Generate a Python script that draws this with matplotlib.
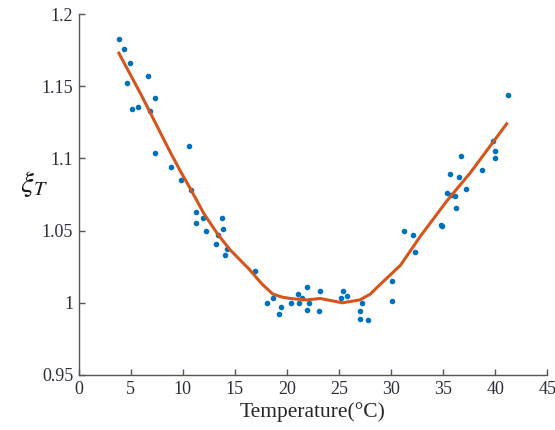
import matplotlib.pyplot as plt

plt.rcParams['font.family'] = ['Liberation Serif', 'DejaVu Serif']
plt.rcParams['mathtext.fontset'] = 'stix'

# measured samples
temp = [3.85, 4.33, 4.9, 4.6, 6.6, 7.3, 5.1, 5.7, 6.8, 7.3, 10.6, 8.9,
        9.8, 10.8, 11.25, 11.9, 11.25, 13.75, 12.2, 13.9, 13.4, 13.2, 14.2, 14.0,
        16.9, 18.1, 18.65, 19.4, 19.2, 20.4, 21.1, 21.4, 21.15, 21.9, 22.1, 21.9,
        23.2, 23.1, 25.2, 25.4, 25.8, 27.2, 27.0, 27.0, 27.8, 30.1, 30.1,
        31.2, 32.1, 32.3, 34.8, 34.9, 35.4, 36.1, 35.8, 36.2, 35.7, 36.5, 36.7,
        37.2, 38.75, 39.8, 40.0, 40.0, 41.2]
xi = [1.183, 1.176, 1.166, 1.152, 1.157, 1.142, 1.134, 1.136, 1.133, 1.104, 1.109, 1.094,
      1.085, 1.078, 1.063, 1.059, 1.055, 1.059, 1.050, 1.051, 1.047, 1.041, 1.037, 1.033,
      1.022, 1.000, 1.003, 0.997, 0.992, 1.000, 1.006, 1.003, 1.000, 1.011, 1.000, 0.995,
      1.008, 0.994, 1.003, 1.008, 1.005, 1.000, 0.994, 0.989, 0.988, 1.015, 1.001,
      1.050, 1.047, 1.035, 1.054, 1.053, 1.076, 1.074, 1.075, 1.066, 1.089, 1.087, 1.102,
      1.079, 1.092, 1.112, 1.105, 1.100, 1.144]

# fitted curve
fit_t = [3.85, 6.0, 8.6, 9.7, 10.8, 12.0, 13.3, 14.5, 16.4, 17.6, 18.65, 19.5, 20.3, 21.9, 23.2,
         25.3, 27.0, 28.0, 28.7, 30.9, 32.8, 35.4, 37.6, 41.1]
fit_xi = [1.173, 1.144, 1.107, 1.092, 1.078, 1.062, 1.048, 1.037, 1.023, 1.013, 1.006, 1.004,
          1.003, 1.002, 1.003, 1.000, 1.002, 1.006, 1.011, 1.026, 1.046, 1.071, 1.090, 1.124]

fig = plt.figure(figsize=(5.55, 4.3), dpi=100)
ax = fig.add_axes([0.142, 0.128, 0.844, 0.839])

ax.scatter(temp, xi, s=9, color='#0072BD', zorder=2)
ax.plot(fit_t, fit_xi, color='#D4561C', lw=2.2, zorder=3)

ax.set_xlim(0, 45)
ax.set_ylim(0.95, 1.2)
ax.set_xticks(range(0, 46, 5))
ax.set_yticks([0.95, 1.0, 1.05, 1.1, 1.15, 1.2])
ax.set_yticklabels(['0.95', '1', '1.05', '1.1', '1.15', '1.2'])

for side in ['top', 'right']:
    ax.spines[side].set_visible(False)
for side in ['left', 'bottom']:
    ax.spines[side].set_color('#555555')
    ax.spines[side].set_linewidth(1.0)
ax.tick_params(direction='in', length=4, width=1, colors='#555555',
               labelcolor='#2b2f3a', labelsize=13, pad=4)

ax.set_xlabel('Temperature(°C)', fontsize=15.5, color='#262626', labelpad=3)
ax.set_ylabel(r'$\xi_T$', fontsize=21, rotation=0, color='#1a1a1a',
              va='center', ha='center')
ax.yaxis.set_label_coords(-0.096, 0.53)

fig.savefig('out.png', dpi=100)
